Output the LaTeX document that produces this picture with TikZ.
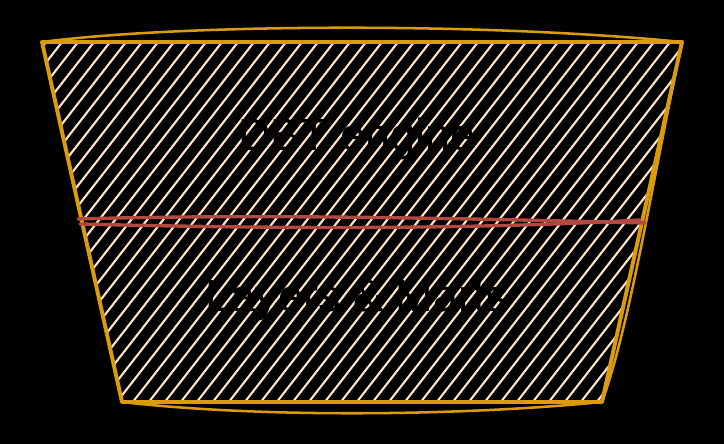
\documentclass[tikz,border=0pt]{standalone}
\usepackage{fontspec}
\setmainfont{Liberation Sans}
\usetikzlibrary{calc}
\definecolor{trapgold}{HTML}{DB9C0B}
\definecolor{hatchcream}{HTML}{FFE6C9}
\definecolor{layerred}{HTML}{B4493F}

\tikzset{
  hatchline/.style={hatchcream, line width=1.5pt},
  outline/.style={trapgold, line width=2.8pt, line join=round},
  sketchline/.style={trapgold, line width=1.8pt},
  midline/.style={layerred, line width=2.4pt, line cap=round},
  label/.style={font=\fontsize{32}{38}\selectfont, text=black}
}

\begin{document}
\begin{tikzpicture}[x=0.025cm, y=0.025cm]
  % background
  \fill[black] (0,0) rectangle (724,444);
  \coordinate (tl) at (42,402);
  \coordinate (tr) at (682,402);
  \coordinate (br) at (602,42);
  \coordinate (bl) at (122,42);

  % hatch fill
  \begin{scope}
    \clip (tl) -- (tr) -- (br) -- (bl) -- cycle;
    \foreach \i in {-5,...,68}
      \draw[hatchline] (\i*16-300,0) -- ++(52:750);
  \end{scope}

  % trapezoid, drawn twice like a sketch
  \draw[outline] (tl) -- (tr) -- (br) -- (bl) -- cycle;
  \draw[sketchline] (tl) .. controls (180,420) and (480,422) .. (tr);
  \draw[sketchline] (bl) .. controls (260,26) and (460,28) .. (br);
  \draw[sketchline] (tr) .. controls (650,250) and (630,120) .. (br);

  % layer split
  \coordinate (ml) at (78,225);
  \coordinate (mr) at (645,221);
  \draw[midline] (ml) .. controls (250,230) and (450,226) .. (mr);
  \draw[midline] (80,220) .. controls (320,214) and (500,216) .. (640,224);

  \node[label] (engine) at (357,305) {DBT engine};
  \node[label] (layers) at (357,143) {Layers \& Marts};
\end{tikzpicture}
\end{document}
